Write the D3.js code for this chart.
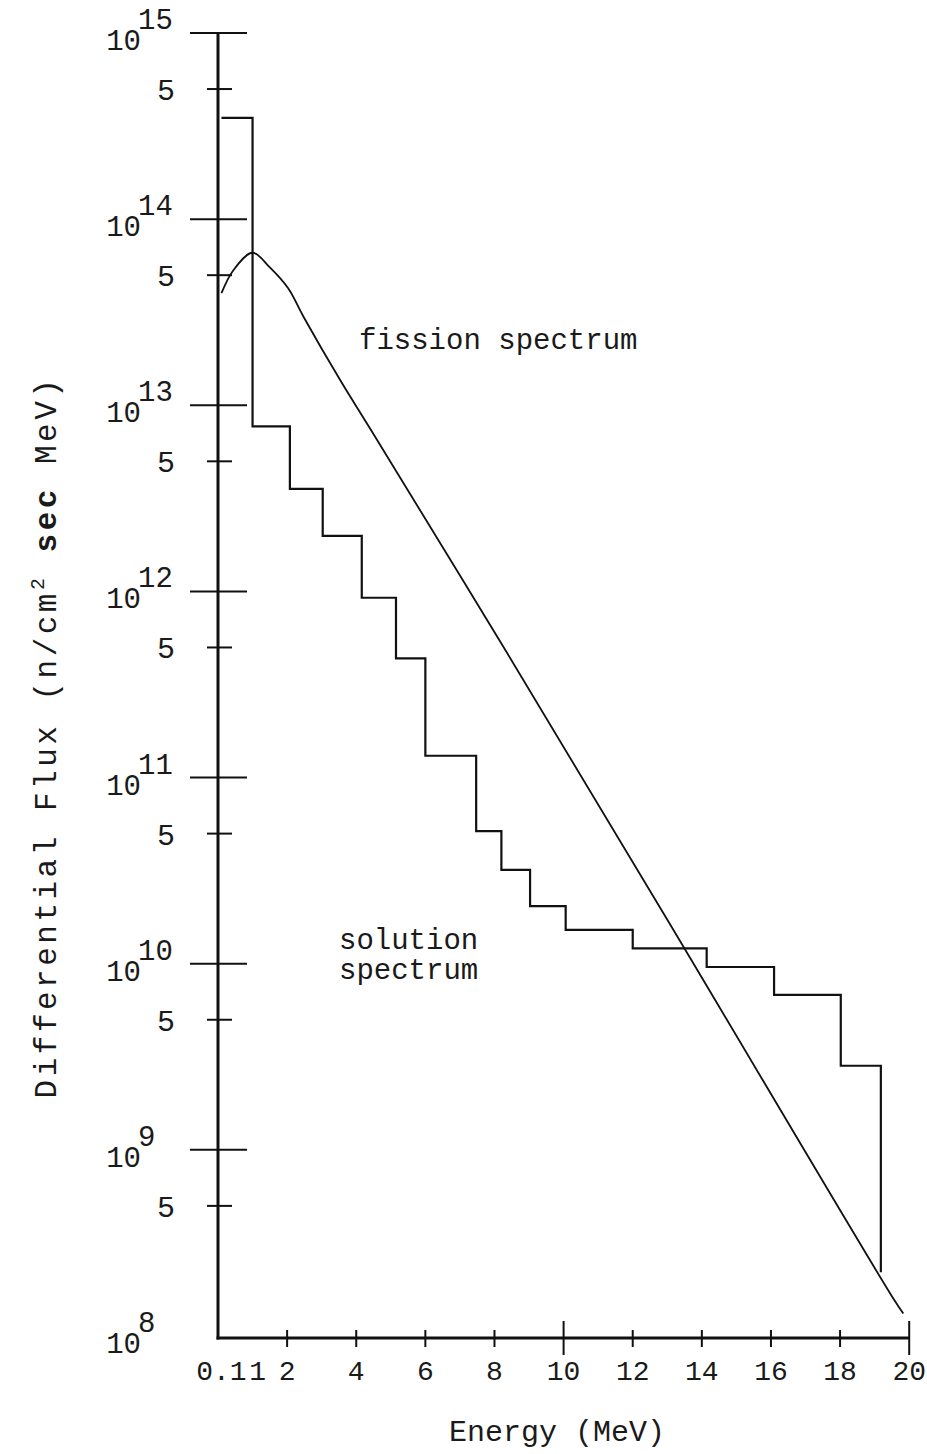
<!DOCTYPE html>
<html>
<head>
<meta charset="utf-8">
<script src="https://cdn.jsdelivr.net/npm/d3@7"></script>
<style>
  body { margin: 0; background: #fff; }
  text { font-family: "Liberation Mono", "DejaVu Sans Mono", monospace; fill: #1a1a1a; }
</style>
</head>
<body>
<svg id="chart" width="927" height="1454"></svg>
<script>
// Solution spectrum: histogram bin edges (MeV) and flux in each bin
const binEdges = [0.1, 1, 2.08, 3.03, 4.16, 5.15, 6, 7.47, 8.2, 9.03, 10.06, 12, 14.14, 16.09, 18.02, 19.18];
const solutionFlux = [3.5e14, 7.7e12, 3.56e12, 1.99e12, 9.25e11, 4.37e11, 1.31e11, 5.16e10, 3.19e10, 2.04e10, 1.52e10, 1.21e10, 9.6e9, 6.8e9, 2.83e9];
const solutionCutoffFlux = 2.2e8;

// Fission spectrum curve
const fissionEnergy = [0.1, 0.44, 1.0, 1.5, 2.03, 2.47, 3.53, 4.4, 8.16, 12.98, 19.54, 19.83];
const fissionFlux = [4.0e13, 5.3e13, 6.6e13, 5.5e13, 4.25e13, 3.0e13, 1.37e13, 7.5e12, 5.4e11, 1.75e10, 1.59e8, 1.32e8];

// Axis ticks
const decadeExponents = [8, 9, 10, 11, 12, 13, 14, 15];
const halfDecadeTicks = [5e8, 5e9, 5e10, 5e11, 5e12, 5e13, 5e14];
const energyTicks = [2, 4, 6, 8, 10, 12, 14, 16, 18, 20];
const energyLongTicks = [10, 20];
const energyLabelValues = [0.1, 1, 2, 4, 6, 8, 10, 12, 14, 16, 18, 20];
const energyLabelTexts = ["0.1", "1", "2", "4", "6", "8", "10", "12", "14", "16", "18", "20"];

const svg = d3.select("#chart");
svg.append("rect").attr("width", 927).attr("height", 1454).attr("fill", "#fff");

const x = d3.scaleLinear().domain([0, 20]).range([218, 909.2]);
const y = d3.scaleLog().domain([1e8, 1e15]).range([1336, 33]);

const ink = "#111";

// ---- axes ----
const axisY = 1338;
svg.append("line")
  .attr("x1", x(0)).attr("x2", x(0))
  .attr("y1", y(1e15)).attr("y2", axisY + 1.5)
  .attr("stroke", ink).attr("stroke-width", 3);
svg.append("line")
  .attr("x1", x(0) - 1.5).attr("x2", x(20))
  .attr("y1", axisY).attr("y2", axisY)
  .attr("stroke", ink).attr("stroke-width", 3);

// y ticks: decades (long) and 5x (short)
svg.append("g").selectAll("line").data(decadeExponents.filter(e => e > 8)).join("line")
  .attr("x1", x(0) - 28).attr("x2", x(0) + 29)
  .attr("y1", e => y(Math.pow(10, e))).attr("y2", e => y(Math.pow(10, e)))
  .attr("stroke", ink).attr("stroke-width", 2);
svg.append("g").selectAll("line").data(halfDecadeTicks).join("line")
  .attr("x1", x(0) - 11).attr("x2", x(0) + 14)
  .attr("y1", d => y(d)).attr("y2", d => y(d))
  .attr("stroke", ink).attr("stroke-width", 2);

// y labels: 10^n
const dec = svg.append("g").selectAll("g").data(decadeExponents).join("g")
  .attr("transform", e => `translate(0,${y(Math.pow(10, e))})`);
dec.append("text")
  .attr("x", 141).attr("y", 17)
  .attr("text-anchor", "end")
  .attr("font-size", 29)
  .text("10");
dec.append("text")
  .attr("x", 138).attr("y", -4)
  .attr("font-size", 29)
  .text(e => e);

svg.append("g").selectAll("text").data(halfDecadeTicks).join("text")
  .attr("x", 166).attr("y", d => y(d) + 11)
  .attr("text-anchor", "middle")
  .attr("font-size", 30)
  .text("5");

// x ticks
svg.append("g").selectAll("line").data(energyTicks).join("line")
  .attr("x1", d => x(d)).attr("x2", d => x(d))
  .attr("y1", d => energyLongTicks.includes(d) ? axisY - 17 : axisY - 8)
  .attr("y2", d => energyLongTicks.includes(d) ? axisY + 17 : axisY + 9)
  .attr("stroke", ink).attr("stroke-width", 2);

const labelShift = { "1": 5 };
svg.append("g").selectAll("text").data(energyLabelValues).join("text")
  .attr("x", (d, i) => x(d) + (labelShift[energyLabelTexts[i]] || 0))
  .attr("y", 1380)
  .attr("text-anchor", "middle")
  .attr("font-size", 28)
  .text((d, i) => energyLabelTexts[i]);

// axis titles
svg.append("text")
  .attr("x", 557).attr("y", 1441)
  .attr("text-anchor", "middle")
  .attr("font-size", 30)
  .text("Energy (MeV)");

const yTitle = svg.append("text")
  .attr("transform", "translate(56,737) rotate(-90)")
  .attr("text-anchor", "middle")
  .attr("font-size", 31)
  .attr("letter-spacing", 3.5);
yTitle.append("tspan").text("Differential Flux (n/cm");
yTitle.append("tspan").attr("dy", -12).attr("font-size", 20).text("2");
yTitle.append("tspan").attr("dy", 12).text(" ");
yTitle.append("tspan").attr("font-weight", "bold").text("sec");
yTitle.append("tspan").text(" MeV)");

// ---- solution spectrum (step histogram) ----
const stepPts = [];
solutionFlux.forEach((v, i) => {
  stepPts.push([binEdges[i], v]);
  stepPts.push([binEdges[i + 1], v]);
});
stepPts.push([binEdges[binEdges.length - 1], solutionCutoffFlux]);

svg.append("path")
  .attr("d", d3.line().x(d => x(d[0])).y(d => y(d[1]))(stepPts))
  .attr("fill", "none")
  .attr("stroke", ink)
  .attr("stroke-width", 2.2)
  .attr("stroke-linejoin", "miter");

// ---- fission spectrum curve ----
const fissionPts = fissionEnergy.map((e, i) => [e, fissionFlux[i]]);
svg.append("path")
  .attr("d", d3.line().x(d => x(d[0])).y(d => y(d[1])).curve(d3.curveCatmullRom.alpha(0.5))(fissionPts))
  .attr("fill", "none")
  .attr("stroke", ink)
  .attr("stroke-width", 1.8);

// ---- curve labels ----
svg.append("text").attr("x", 359).attr("y", 349).attr("font-size", 29).text("fission spectrum");
svg.append("text").attr("x", 339).attr("y", 949).attr("font-size", 29).text("solution");
svg.append("text").attr("x", 339).attr("y", 979).attr("font-size", 29).text("spectrum");
</script>
</body>
</html>
